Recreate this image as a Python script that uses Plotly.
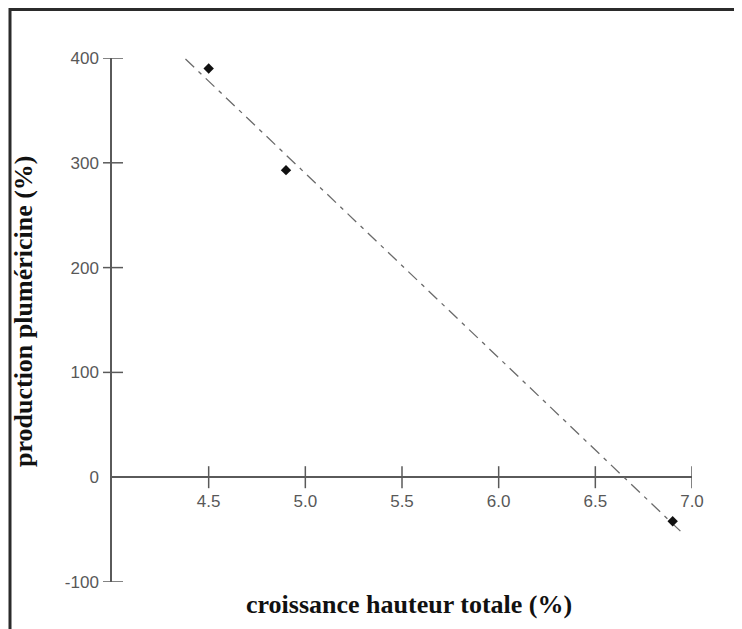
import numpy as np
import plotly.graph_objects as go

# ---- data ----
x_vals = [4.5, 4.9, 6.9]
y_vals = [390, 293, -42]
fit_x_ends = [4.38, 6.96]
x_ticks = [4.5, 5.0, 5.5, 6.0, 6.5, 7.0]
x_tick_labels = ["4.5", "5.0", "5.5", "6.0", "6.5", "7.0"]
y_ticks = [-100, 0, 100, 200, 300, 400]
y_tick_labels = ["-100", "0", "100", "200", "300", "400"]
x_title = "croissance hauteur totale (%)"
y_title = "production pluméricine (%)"

slope, intercept = np.polyfit(x_vals, y_vals, 1)
fit_y = [slope * v + intercept for v in fit_x_ends]

AX = "#5a5a5a"
FIG_W, FIG_H = 734, 621
L, T, W, H = 104, 50, 580, 524

def px(xp):
    return (xp - L) / W

def py(yp):
    return (T + H - yp) / H

fig = go.Figure()
fig.add_trace(go.Scatter(x=fit_x_ends, y=fit_y, mode="lines",
                         line=dict(color="#6a6a6a", width=1.3, dash="12px,6px,4px,6px"),
                         showlegend=False, hoverinfo="skip"))
fig.add_trace(go.Scatter(x=x_vals, y=y_vals, mode="markers",
                         marker=dict(symbol="diamond", size=8, color="#111111"),
                         showlegend=False, cliponaxis=False))

shapes = []
for v in y_ticks:
    if v == 0:
        continue
    shapes.append(dict(type="line", xref="paper", yref="y",
                       x0=-9 / W, x1=11 / W, y0=v, y1=v, line=dict(color=AX, width=1.5)))
for v in x_ticks:
    shapes.append(dict(type="line", xref="x", yref="paper",
                       y0=0.2 - 11 / H, y1=0.2 + 11 / H, x0=v, x1=v, line=dict(color=AX, width=1.5)))
# frame (left and top edges visible, right/bottom run off the page)
shapes.append(dict(type="rect", xref="paper", yref="paper",
                   x0=px(2), x1=px(800), y0=py(700), y1=py(1.5),
                   line=dict(color="#2b2b2b", width=3), fillcolor="rgba(0,0,0,0)", layer="above"))

tick_font = dict(family="Liberation Sans, Arial", size=17, color="#585858")
fig.update_layout(
    width=FIG_W, height=FIG_H,
    margin=dict(l=L, r=FIG_W - L - W, t=T, b=FIG_H - T - H),
    paper_bgcolor="white", plot_bgcolor="white",
    xaxis=dict(range=[4.0, 7.0], tickvals=x_ticks, ticktext=x_tick_labels,
               showgrid=False, zeroline=False, showline=False, ticks="",
               anchor="free", position=0.2, ticklabelstandoff=12, tickfont=tick_font),
    yaxis=dict(range=[-100, 400], tickvals=y_ticks, ticktext=y_tick_labels,
               showgrid=False, zeroline=True, zerolinecolor=AX, zerolinewidth=1.5,
               showline=True, linecolor=AX, linewidth=1.5, ticks="",
               ticklabelstandoff=8, tickfont=tick_font),
    shapes=shapes,
    annotations=[
        dict(text="<b>" + x_title + "</b>", xref="paper", yref="paper",
             x=px(401), y=py(596), showarrow=False, xanchor="center", yanchor="middle",
             font=dict(family="Liberation Serif, Times New Roman", size=26, color="#111111")),
        dict(text="<b>" + y_title + "</b>", xref="paper", yref="paper", textangle=-90,
             x=px(15), y=py(303), showarrow=False, xanchor="center", yanchor="middle",
             font=dict(family="Liberation Serif, Times New Roman", size=26, color="#111111")),
    ],
)
fig.write_html("out.html")
